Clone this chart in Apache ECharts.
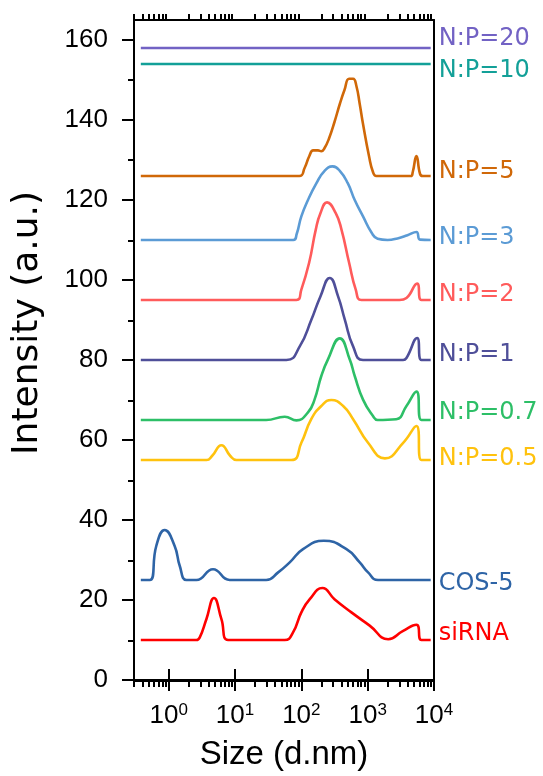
<!DOCTYPE html>
<html>
<head>
<meta charset="utf-8">
<script src="https://cdn.jsdelivr.net/npm/echarts@6/dist/echarts.min.js"></script>
<style>
html,body{margin:0;padding:0;background:#fff;}
#chart{width:543px;height:776px;}
</style>
</head>
<body>
<div id="chart"></div>
<script>
// ---- Data ----
const seriesNames = ['N:P=20','N:P=10','N:P=5','N:P=3','N:P=2','N:P=1','N:P=0.7','N:P=0.5','COS-5','siRNA'];

const np20Size = [0.38, 8913];
const np20Int  = [158, 158];

const np10Size = [0.38, 8913];
const np10Int  = [154, 154];

const np5Size = [0.38, 93.3, 112, 132, 151, 178, 200, 224, 263, 316, 380, 447, 525, 603, 676, 759, 851, 1047, 1202, 1349, 4467, 4786, 5433, 6166, 6761, 8913];
const np5Int  = [126, 126, 128, 131, 132.4, 132.4, 132.2, 133, 135.5, 139.5, 144, 147.5, 150.3, 150.3, 148.5, 144, 139, 131, 127, 126, 126, 127, 131, 126.5, 126, 126];

const np3Size = [0.38, 75.9, 85.1, 100, 126, 169, 224, 295, 380, 501, 638, 851, 1148, 1413, 1995, 2818, 3981, 5433, 6166, 8913];
const np3Int  = [110, 110, 111.5, 115.9, 120, 124.2, 127.3, 128.4, 127.3, 124.2, 120, 115.9, 111.8, 110.3, 110, 110.4, 111.2, 112, 110.1, 110];

const np2Size = [0.38, 84.3, 100, 131, 165, 194, 244, 330, 403, 525, 661, 805, 3020, 3846, 5559, 6457, 8913];
const np2Int  = [95, 95, 97.6, 104.3, 112.6, 116.7, 119.4, 116.7, 112.6, 104.3, 97.6, 95, 95, 95.5, 99.1, 95, 95];

const np1Size = [0.38, 59.6, 94.6, 142, 194, 268, 358, 452, 603, 851, 3428, 3846, 5559, 6457, 8913];
const np1Int  = [80, 80, 83.4, 90.1, 95.9, 100.5, 95.9, 90.1, 83.4, 80, 80, 80.5, 85.5, 80, 80];

const np07Size = [0.38, 29.5, 56.2, 84.3, 126, 158, 200, 251, 380, 537, 638, 851, 1202, 1413, 2692, 3846, 5433, 6457, 8913];
const np07Int  = [65, 65, 65.8, 64.9, 66.9, 70.1, 76.0, 80.1, 85.4, 80.1, 76.0, 70.1, 66.0, 65, 65.2, 68.5, 72.1, 65, 65];

const np05Size = [0.38, 3.72, 4.5, 6.24, 8.5, 10.5, 70.8, 100, 141, 200, 284, 427, 603, 1014, 1820, 3428, 5433, 6457, 8913];
const np05Int  = [55, 55, 56, 58.7, 56, 55, 55, 59.3, 65.2, 68.5, 70.0, 68.5, 65.2, 59.3, 55.4, 59.3, 63.5, 55, 55];

const cosSize = [0.38, 0.52, 0.65, 0.87, 1.23, 1.47, 1.85, 2.62, 4.66, 8.32, 29.5, 44.7, 66.8, 106, 218, 479, 759, 1014, 1435, 8913];
const cosInt  = [25, 25, 33.5, 37.5, 33.5, 28.5, 25, 25, 27.7, 25, 25, 26.9, 29.4, 32.7, 34.8, 32.7, 29.4, 26.9, 25, 25];

const sirnaSize = [0.38, 2.62, 2.93, 3.70, 4.82, 6.24, 7.85, 56.2, 75.0, 100, 134, 208, 316, 569, 1072, 2042, 3428, 5433, 6457, 8913];
const sirnaInt  = [10, 10, 10.6, 15.2, 20.5, 15.2, 10, 10, 11.9, 16.9, 20.2, 23.0, 20.2, 16.9, 13.6, 10.2, 12.3, 13.8, 10, 10];

const xMajorTicks = [1, 10, 100, 1000, 10000];
const xMinorTicks = [0.3,0.4,0.5,0.6,0.7,0.8,0.9,2,3,4,5,6,7,8,9,20,30,40,50,60,70,80,90,200,300,400,500,600,700,800,900,2000,3000,4000,5000,6000,7000,8000,9000];
const yMajorTicks = [0, 20, 40, 60, 80, 100, 120, 140, 160];
const yMinorTicks = [10, 30, 50, 70, 90, 110, 130, 150];

// ---- Styles ----
const colors = ['#7262c4','#13a098','#d06808','#5b9bd5','#ff5b5b','#4f4f99','#2dbf67','#ffc20e','#2e64a6','#ff0000'];
const labelOffsets = [-9, 7, -4, -2, -5, -5, -7, -1, 4, -6];
const sizes = [np20Size,np10Size,np5Size,np3Size,np2Size,np1Size,np07Size,np05Size,cosSize,sirnaSize];
const ints  = [np20Int,np10Int,np5Int,np3Int,np2Int,np1Int,np07Int,np05Int,cosInt,sirnaInt];

const FONT = 'Liberation Sans, Arial, sans-serif';
const WIDEFONT = 'DejaVu Sans, sans-serif';
const chart = echarts.init(document.getElementById('chart'), null, {renderer:'canvas'});

const gridPos = {left:134, right:109, top:20, bottom:95};
const axLine = {show:true, lineStyle:{color:'#000', width:2}};

function xAx(gi, pos, ticks, len, extra){
  return Object.assign({
    type:'log', logBase:10, min:0.3, max:10000, gridIndex:gi, position:pos,
    axisLine: axLine,
    axisTick:{show:true, inside:false, length:len, customValues:ticks, lineStyle:{color:'#000', width:2}},
    axisLabel:{show:false},
    splitLine:{show:false}, minorTick:{show:false}, minorSplitLine:{show:false}
  }, extra||{});
}

const option = {
  animation:false,
  backgroundColor:'#fff',
  grid:[Object.assign({}, gridPos), Object.assign({}, gridPos)],
  xAxis:[
    xAx(0,'bottom',xMajorTicks,11,{
      axisLabel:{show:true, customValues:xMajorTicks, margin:22, fontFamily:FONT,
        formatter:function(v){ return '{b|10}{s|' + Math.round(Math.log10(v)) + '}'; },
        rich:{ b:{fontSize:26, color:'#000', fontFamily:FONT, lineHeight:28},
               s:{fontSize:17, color:'#000', fontFamily:FONT, lineHeight:17, verticalAlign:'top'} }
      },
      name:'Size (d.nm)', nameLocation:'middle', nameGap:58, nameMoveOverlap:false,
      nameTextStyle:{fontSize:33, color:'#000', fontFamily:FONT}
    }),
    xAx(0,'top',xMajorTicks,11),
    xAx(1,'bottom',xMinorTicks,6),
    xAx(1,'top',xMinorTicks,6)
  ],
  yAxis:[
    {type:'value', min:0, max:165, gridIndex:0, position:'left',
     axisLine:axLine,
     axisTick:{show:true, length:12, customValues:yMajorTicks, lineStyle:{color:'#000', width:2}},
     axisLabel:{show:true, customValues:yMajorTicks, margin:26, fontSize:26, color:'#000', fontFamily:FONT},
     splitLine:{show:false},
     name:'Intensity (a.u.)', nameLocation:'middle', nameGap:88,
     nameTextStyle:{fontSize:36, color:'#000', fontFamily:WIDEFONT, padding:[0,0,0,54]}
    },
    {type:'value', min:0, max:165, gridIndex:0, position:'right',
     axisLine:axLine, axisTick:{show:false}, axisLabel:{show:false}, splitLine:{show:false}},
    {type:'value', min:0, max:165, gridIndex:1, position:'left',
     axisLine:axLine,
     axisTick:{show:true, length:6, customValues:yMinorTicks, lineStyle:{color:'#000', width:2}},
     axisLabel:{show:false}, splitLine:{show:false}}
  ],
  series: seriesNames.map(function(name, i){
    return {
      name:name, type:'line', xAxisIndex:0, yAxisIndex:0,
      data: sizes[i].map(function(s, k){ return [s, ints[i][k]]; }),
      showSymbol:false, symbol:'none', smooth:0.5,
      lineStyle:{color:colors[i], width:2.6},
      itemStyle:{color:colors[i]},
      endLabel:{show:true, formatter:name, color:colors[i], fontSize:24, fontFamily:WIDEFONT,
                distance:8, offset:[0, labelOffsets[i]]},
      z: 3
    };
  })
};
chart.setOption(option);
</script>
</body>
</html>
